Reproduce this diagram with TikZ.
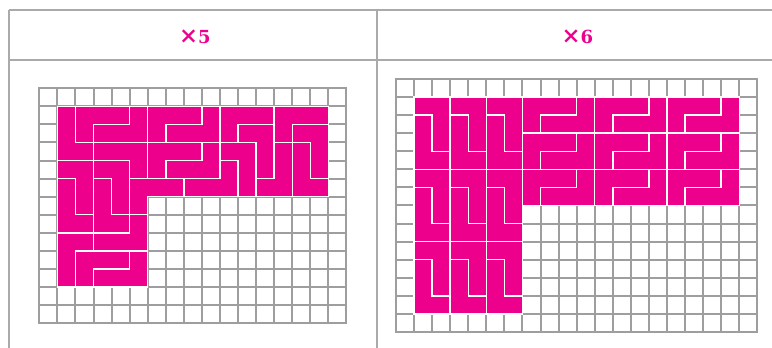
\documentclass[tikz,border=0pt]{standalone}
\usepackage{fontspec}
\usepackage{tikz}
\usetikzlibrary{positioning}
\newfontfamily\titrefont{DejaVu Serif}
\newcommand\grandfois{{\fontsize{17}{17}\selectfont ×}}
\definecolor{rose}{RGB}{236,0,140}
\definecolor{grille}{RGB}{158,158,160}
\definecolor{filet}{RGB}{170,170,170}

\begin{document}
\begin{tikzpicture}[
  x=0.75pt, y=-0.75pt,
  every node/.style={font=\titrefont\bfseries\fontsize{13.5}{15}\selectfont},
  filet/.style={draw=filet, line width=0.8pt},
  gridline/.style={draw=grille, line width=1.5pt, line cap=rect},
  tile/.style={fill=rose, draw=white, line width=1.1pt},
  cellunit/.style={x=13.55pt, y=-13.55pt},
]
  \useasboundingbox (0,0) rectangle (772,348);

  % Tableau
  \draw[filet] (9,10) -- (772,10);
  \draw[filet] (9,60) -- (772,60);
  \draw[filet] (9,10) -- (9,348);
  \draw[filet] (377,10) -- (377,348);

  % En-tetes
  \node[text=rose, anchor=base] (fois5) at (195,44) {\grandfois5};
  \node[text=rose, anchor=base] (fois6) at (577.5,44) {\grandfois6};

  % Grille x5
  \begin{scope}[shift={(39.3,88.3)}, cellunit]
    \foreach \i in {0,...,17} \draw[gridline] (\i,0) -- (\i,13);
    \foreach \j in {0,...,13} \draw[gridline] (0,\j) -- (17,\j);
    \begin{scope}[shift={(1,1)}]
      \draw[tile] (0,0) -- (1,0) -- (1,2) -- (2,2) -- (2,3) -- (0,3) -- cycle;
      \draw[tile] (1,0) -- (4,0) -- (4,1) -- (2,1) -- (2,2) -- (1,2) -- cycle;
      \draw[tile] (4,0) -- (5,0) -- (5,2) -- (2,2) -- (2,1) -- (4,1) -- cycle;
      \draw[tile] (5,0) -- (8,0) -- (8,1) -- (6,1) -- (6,2) -- (5,2) -- cycle;
      \draw[tile] (8,0) -- (9,0) -- (9,2) -- (6,2) -- (6,1) -- (8,1) -- cycle;
      \draw[tile] (9,0) -- (12,0) -- (12,1) -- (10,1) -- (10,2) -- (9,2) -- cycle;
      \draw[tile] (12,0) -- (15,0) -- (15,1) -- (13,1) -- (13,2) -- (12,2) -- cycle;
      \draw[tile] (10,1) -- (12,1) -- (12,4) -- (11,4) -- (11,2) -- (10,2) -- cycle;
      \draw[tile] (13,1) -- (15,1) -- (15,4) -- (14,4) -- (14,2) -- (13,2) -- cycle;
      \draw[tile] (13,2) -- (14,2) -- (14,4) -- (15,4) -- (15,5) -- (13,5) -- cycle;
      \draw[tile] (12,2) -- (13,2) -- (13,5) -- (11,5) -- (11,4) -- (12,4) -- cycle;
      \draw[tile] (9,2) -- (11,2) -- (11,5) -- (10,5) -- (10,3) -- (9,3) -- cycle;
      \draw[tile] (9,3) -- (10,3) -- (10,5) -- (7,5) -- (7,4) -- (9,4) -- cycle;
      \draw[tile] (2,2) -- (5,2) -- (5,4) -- (4,4) -- (4,3) -- (2,3) -- cycle;
      \draw[tile] (5,2) -- (8,2) -- (8,3) -- (6,3) -- (6,4) -- (5,4) -- cycle;
      \draw[tile] (8,2) -- (9,2) -- (9,4) -- (6,4) -- (6,3) -- (8,3) -- cycle;
      \draw[tile] (4,4) -- (7,4) -- (7,5) -- (5,5) -- (5,6) -- (4,6) -- cycle;
      \draw[tile] (0,3) -- (2,3) -- (2,6) -- (1,6) -- (1,4) -- (0,4) -- cycle;
      \draw[tile] (0,4) -- (1,4) -- (1,6) -- (2,6) -- (2,7) -- (0,7) -- cycle;
      \draw[tile] (2,3) -- (4,3) -- (4,6) -- (3,6) -- (3,4) -- (2,4) -- cycle;
      \draw[tile] (2,4) -- (3,4) -- (3,6) -- (4,6) -- (4,7) -- (2,7) -- cycle;
      \draw[tile] (0,7) -- (2,7) -- (2,8) -- (1,8) -- (1,10) -- (0,10) -- cycle;
      \draw[tile] (4,6) -- (5,6) -- (5,8) -- (2,8) -- (2,7) -- (4,7) -- cycle;
      \draw[tile] (1,8) -- (4,8) -- (4,9) -- (2,9) -- (2,10) -- (1,10) -- cycle;
      \draw[tile] (4,8) -- (5,8) -- (5,10) -- (2,10) -- (2,9) -- (4,9) -- cycle;
    \end{scope}
  \end{scope}

  % Grille x6
  \begin{scope}[shift={(396,79)}, cellunit]
    \foreach \i in {0,...,20} \draw[gridline] (\i,0) -- (\i,14);
    \foreach \j in {0,...,14} \draw[gridline] (0,\j) -- (20,\j);
    \begin{scope}[shift={(1,1)}]
      % blocs verticaux
      \foreach \bx in {0,2,4} \foreach \by in {0,4,8} {
        \draw[tile] (\bx,\by) -- ++(2,0) -- ++(0,3) -- ++(-1,0) -- ++(0,-2) -- ++(-1,0) -- cycle;
        \draw[tile] (\bx,\by+1) -- ++(1,0) -- ++(0,2) -- ++(1,0) -- ++(0,1) -- ++(-2,0) -- cycle;
      }
      % blocs horizontaux
      \foreach \bx in {6,10,14} \foreach \by in {0,2,4} {
        \draw[tile] (\bx,\by) -- ++(3,0) -- ++(0,1) -- ++(-2,0) -- ++(0,1) -- ++(-1,0) -- cycle;
        \draw[tile] (\bx+3,\by) -- ++(1,0) -- ++(0,2) -- ++(-3,0) -- ++(0,-1) -- ++(2,0) -- cycle;
      }
    \end{scope}
  \end{scope}
\end{tikzpicture}
\end{document}
